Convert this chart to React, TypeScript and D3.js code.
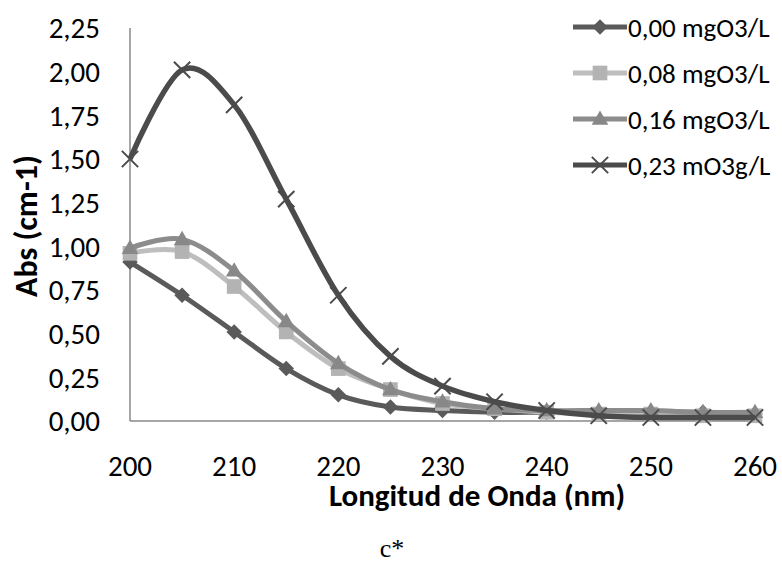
import * as d3 from 'd3';

// wavelengths (nm) and absorbance per ozone dose
const wavelengths = [200, 205, 210, 215, 220, 225, 230, 235, 240, 245, 250, 255, 260];
const abs000 = [0.91, 0.72, 0.51, 0.3, 0.15, 0.08, 0.06, 0.05, 0.05, 0.05, 0.05, 0.05, 0.04];
const abs008 = [0.96, 0.97, 0.77, 0.51, 0.3, 0.18, 0.1, 0.07, 0.05, 0.04, 0.04, 0.03, 0.03];
const abs016 = [0.99, 1.04, 0.86, 0.57, 0.33, 0.18, 0.11, 0.07, 0.06, 0.06, 0.06, 0.05, 0.05];
const abs023 = [1.5, 2.01, 1.81, 1.27, 0.72, 0.37, 0.2, 0.11, 0.06, 0.03, 0.02, 0.02, 0.02];

const seriesNames = ['0,00 mgO3/L', '0,08 mgO3/L', '0,16 mgO3/L', '0,23 mO3g/L'];
const yTicks = [0, 0.25, 0.5, 0.75, 1, 1.25, 1.5, 1.75, 2, 2.25];
const xTicks = [200, 210, 220, 230, 240, 250, 260];

const font = 'Carlito, Lato, sans-serif';
const W = 782;
const H = 588;

const series = [
  { name: seriesNames[0], values: abs000, line: '#5a5a5a', fill: '#5a5a5a', marker: 'diamond' },
  { name: seriesNames[1], values: abs008, line: '#bebebe', fill: '#b3b3b3', marker: 'square' },
  { name: seriesNames[2], values: abs016, line: '#8c8c8c', fill: '#888888', marker: 'triangle' },
  { name: seriesNames[3], values: abs023, line: '#4b4b4b', fill: '#4b4b4b', marker: 'x' },
];

const fmt = d3.formatLocale({ decimal: ',', thousands: '.', grouping: [3], currency: ['', ''] }).format('.2f');

function Marker({ type, x, y, fill }: { type: string; x: number; y: number; fill: string }) {
  if (type === 'diamond') {
    return <path d={d3.symbol(d3.symbolSquare, 120)()!} transform={`translate(${x},${y}) rotate(45)`} fill={fill} />;
  }
  if (type === 'square') {
    return <path d={d3.symbol(d3.symbolSquare, 215)()!} transform={`translate(${x},${y})`} fill={fill} />;
  }
  if (type === 'triangle') {
    return <path d={d3.symbol(d3.symbolTriangle, 120)()!} transform={`translate(${x},${y + 1})`} fill={fill} />;
  }
  return (
    <path d={d3.symbol(d3.symbolX, 175)()!} transform={`translate(${x},${y})`} fill="none" stroke={fill} strokeWidth={2} />
  );
}

export default function App() {
  const x = d3.scaleLinear().domain([200, 260]).range([130, 755]);
  const y = d3.scaleLinear().domain([0, 2.25]).range([421, 28]);

  const line = d3
    .line<number>()
    .x((_, i) => x(wavelengths[i]))
    .y((d) => y(d))
    .curve(d3.curveCardinal.tension(0));

  return (
    <svg width={W} height={H} style={{ display: 'block', position: 'absolute', left: 0, top: 0 }}>
      <rect width={W} height={H} fill="#fff" />

      {/* axes */}
      <line x1={x(200)} x2={x(200)} y1={y(2.25)} y2={y(0)} stroke="#888" strokeWidth={1.5} />
      <line x1={x(200)} x2={x(260)} y1={y(0)} y2={y(0)} stroke="#888" strokeWidth={1.5} />

      {yTicks.map((t) => (
        <text key={t} x={100} y={y(t)} dy="0.36em" textAnchor="end" fontFamily={font} fontSize={29} fill="#000">
          {fmt(t)}
        </text>
      ))}
      {xTicks.map((t) => (
        <text key={t} x={x(t)} y={476} textAnchor="middle" fontFamily={font} fontSize={29} fill="#000">
          {t}
        </text>
      ))}

      <text x={477} y={506} textAnchor="middle" fontFamily={font} fontSize={31} fontWeight="bold" fill="#000">
        Longitud de Onda (nm)
      </text>
      <text
        transform="translate(37,226) rotate(-90)"
        textAnchor="middle"
        fontFamily={font}
        fontSize={32}
        fontWeight="bold"
        fill="#000"
      >
        Abs (cm-1)
      </text>

      {/* series */}
      {series.map((s) => (
        <g key={s.name}>
          <path d={line(s.values)!} fill="none" stroke={s.line} strokeWidth={s.marker === 'x' ? 5.5 : 5} />
          {s.values.map((v, i) => (
            <Marker key={i} type={s.marker} x={x(wavelengths[i])} y={y(v)} fill={s.fill} />
          ))}
        </g>
      ))}

      {/* legend */}
      {series.map((s, i) => {
        const ly = 27 + i * 46;
        return (
          <g key={s.name}>
            <line x1={573} x2={627} y1={ly} y2={ly} stroke={s.line} strokeWidth={5} />
            <Marker type={s.marker} x={600} y={ly} fill={s.fill} />
            <text x={628} y={ly} dy="0.36em" fontFamily={font} fontSize={27} fill="#000">
              {s.name}
            </text>
          </g>
        );
      })}

      <text x={392} y={557} textAnchor="middle" fontFamily="'Liberation Serif', 'Times New Roman', serif" fontSize={26} fill="#000">
        c*
      </text>
    </svg>
  );
}
